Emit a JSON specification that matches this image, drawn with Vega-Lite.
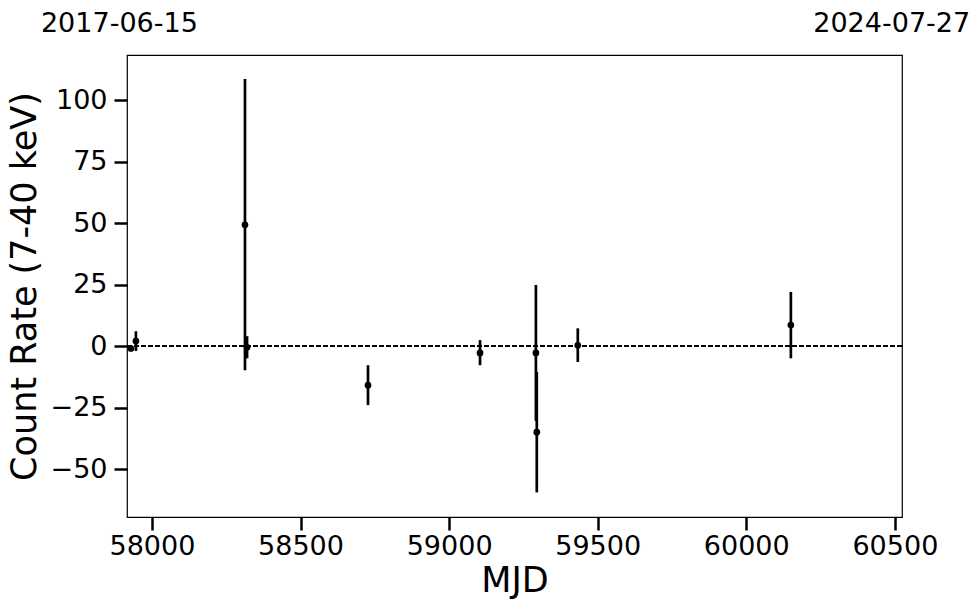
{
  "$schema": "https://vega.github.io/schema/vega-lite/v6.json",
  "width": 775,
  "height": 462,
  "autosize": "none",
  "padding": {"left": 127, "top": 55, "right": 78, "bottom": 96},
  "background": "white",
  "config": {
    "view": {"stroke": "black", "strokeWidth": 1.2},
    "font": "DejaVu Sans",
    "axis": {
      "labelColor": "black", "titleColor": "black", "labelFont": "DejaVu Sans", "titleFont": "DejaVu Sans",
      "labelFontSize": 27, "titleFontSize": 35, "titleFontWeight": "normal",
      "grid": false, "domain": false, "tickColor": "black", "tickSize": 13, "tickWidth": 2.5,
      "labelPadding": 5
    }
  },
  "data": {
    "values": [
      {"mjd": 57929, "rate": -1.0, "lo": -2.0, "hi": 0.0},
      {"mjd": 57946, "rate": 2.0, "lo": -2.0, "hi": 6.0},
      {"mjd": 58313, "rate": 49.3, "lo": -9.8, "hi": 108.5},
      {"mjd": 58320, "rate": -0.5, "lo": -5.0, "hi": 4.0},
      {"mjd": 58727, "rate": -15.9, "lo": -24.0, "hi": -7.8},
      {"mjd": 59104, "rate": -2.8, "lo": -7.8, "hi": 2.4},
      {"mjd": 59292, "rate": -2.8, "lo": -30.4, "hi": 24.8},
      {"mjd": 59295, "rate": -35.0, "lo": -59.5, "hi": -10.5},
      {"mjd": 59433, "rate": 0.3, "lo": -6.5, "hi": 7.2},
      {"mjd": 60150, "rate": 8.5, "lo": -5.0, "hi": 22.0}
    ]
  },
  "resolve": {"axis": {"x": "independent"}},
  "layer": [
    {
      "mark": {"type": "rule", "color": "black", "strokeWidth": 1.4, "strokeDash": [4.5, 2.5]},
      "encoding": {"y": {"datum": 0, "type": "quantitative", "scale": {"domain": [-69.5, 118.3], "nice": false, "zero": false}}}
    },
    {
      "mark": {"type": "rule", "color": "black", "strokeWidth": 2.7},
      "encoding": {
        "x": {"field": "mjd", "type": "quantitative",
          "scale": {"domain": [57916, 60524], "nice": false, "zero": false},
          "axis": {"orient": "bottom", "values": [58000, 58500, 59000, 59500, 60000, 60500], "format": "d", "title": "MJD", "titlePadding": 4, "labelPadding": 3, "labelFlush": false}},
        "y": {"field": "lo", "type": "quantitative",
          "scale": {"domain": [-69.5, 118.3], "nice": false, "zero": false},
          "axis": {"values": [-50, -25, 0, 25, 50, 75, 100], "labelExpr": "replace(datum.label, '-', '\u2212')", "labelPadding": 7, "title": "Count Rate (7-40 keV)", "titlePadding": 8}},
        "y2": {"field": "hi"}
      }
    },
    {
      "mark": {"type": "point", "filled": true, "color": "black", "size": 45, "opacity": 1},
      "encoding": {
        "x": {"field": "mjd", "type": "quantitative",
          "axis": {"orient": "top", "values": [57919, 60518], "ticks": false, "labelFlush": false, "labelPadding": 18, "labelOffset": -9, "title": null,
            "labelExpr": "datum.value < 59000 ? '2017-06-15' : '2024-07-27'"}},
        "y": {"field": "rate", "type": "quantitative"}
      }
    }
  ]
}
